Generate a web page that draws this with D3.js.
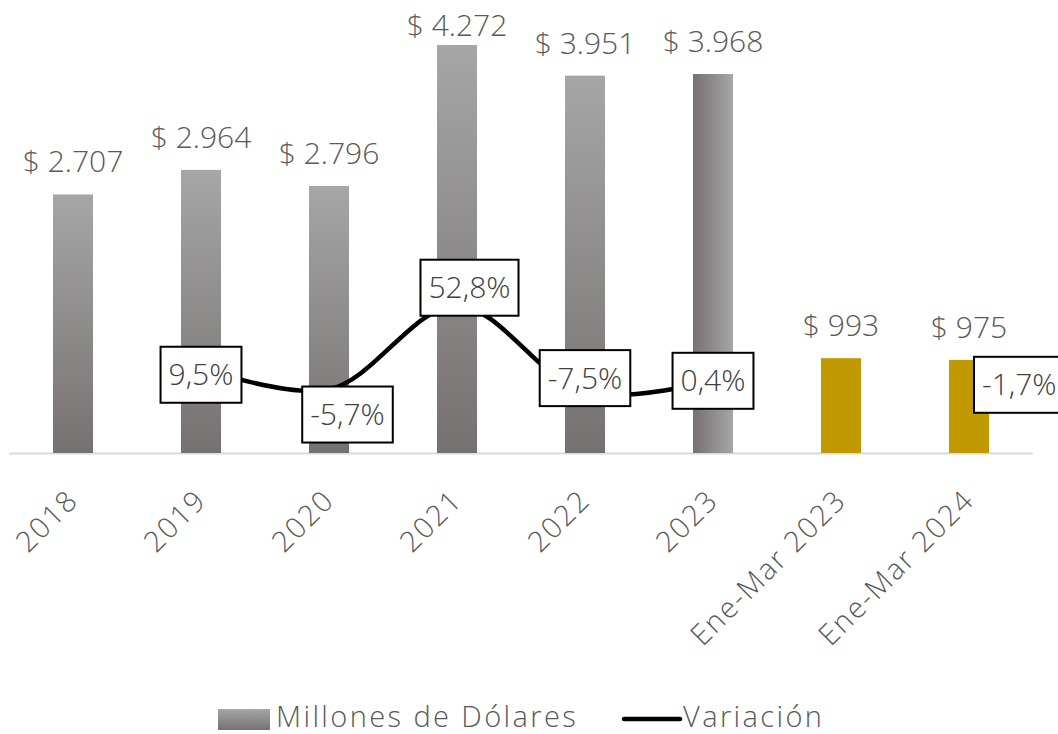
<!DOCTYPE html>
<html><head><meta charset="utf-8">
<script src="https://cdn.jsdelivr.net/npm/d3@7/dist/d3.min.js"></script>
<style>body{margin:0;background:#fff}svg{display:block}text{font-family:"Open Sans","Noto Sans",sans-serif;font-weight:300}</style>
</head><body><svg id="c" width="1058" height="734"></svg>
<script>
const categories = ["2018","2019","2020","2021","2022","2023","Ene-Mar 2023","Ene-Mar 2024"];
const values = [2707,2964,2796,4272,3951,3968,993,975];
const variation = [null,9.5,-5.7,52.8,-7.5,0.4,null,-1.7];
const barKinds = ["v","v","v","v","v","h","gold","gold"];
const yTicksPrimary = [0,4500];
const yTicksSecondary = [-50,250];
const legendLabels = ["Millones de Dólares","Variación"];
// label box offsets (layout)
const labelOffsets = [null,[0,7],[18.5,25],[12.5,-18],[0,-14],[0,0],null,["right",1]];

const svg = d3.select("#c");
const defs = svg.append("defs");
const gv = defs.append("linearGradient").attr("id","gv").attr("x1",0).attr("y1",0).attr("x2",0).attr("y2",1);
gv.append("stop").attr("offset","0").attr("stop-color","#a6a6a6");
gv.append("stop").attr("offset","1").attr("stop-color","#767171");
const gh = defs.append("linearGradient").attr("id","gh").attr("x1",0).attr("y1",0).attr("x2",1).attr("y2",0);
gh.append("stop").attr("offset","0").attr("stop-color","#767171");
gh.append("stop").attr("offset","1").attr("stop-color","#a6a6a6");

const x = d3.scaleBand().domain(categories).range([9,1033]).paddingInner(0.6875).paddingOuter(0.34375);
const y = d3.scaleLinear().domain(yTicksPrimary).range([453,23.2]);
const y2 = d3.scaleLinear().domain(yTicksSecondary).range([453,23.2]);
const fill = k => k==="v" ? "url(#gv)" : k==="h" ? "url(#gh)" : "#c09a00";

// axis line
svg.append("line").attr("x1",9).attr("x2",1033).attr("y1",453.5).attr("y2",453.5)
  .attr("stroke","#d9d9d9").attr("stroke-width",2);

// bars
svg.append("g").selectAll("rect").data(values).join("rect")
  .attr("x",(d,i)=>x(categories[i])).attr("width",x.bandwidth())
  .attr("y",d=>y(d)).attr("height",d=>y(0)-y(d))
  .attr("fill",(d,i)=>fill(barKinds[i]));

// bar labels
const fmtMoney = v => "$ " + d3.format(",")(v).replace(/,/g,".");
svg.append("g").selectAll("text").data(values).join("text")
  .attr("x",(d,i)=>x(categories[i])+x.bandwidth()/2)
  .attr("y",d=>Math.max(y(d)-22,36))
  .attr("text-anchor","middle").attr("font-size",30).attr("fill","#595959")
  .text(fmtMoney);

// x tick labels
const xAxis = svg.append("g").attr("transform","translate(0,453)")
  .call(d3.axisBottom(x).tickSize(0).tickPadding(0));
xAxis.select(".domain").remove();
xAxis.selectAll("text")
  .attr("font-size",29).attr("fill","#595959").attr("letter-spacing","1.8px")
  .style("font-family",'"Open Sans","Noto Sans",sans-serif').style("font-weight",300)
  .attr("text-anchor","end")
  .attr("transform","translate(7,49) rotate(-45)")
  .attr("dy","0").attr("y",0).attr("x",0);

// line
const cx = i => x(categories[i]) + x.bandwidth()/2;
const line = d3.line().defined(d=>d!=null).x((d,i)=>cx(i)).y(d=>y2(d)).curve(d3.curveCatmullRom.alpha(0.5));
svg.append("path").datum(variation).attr("d",line).attr("fill","none")
  .attr("stroke","#000").attr("stroke-width",4.5).attr("stroke-linejoin","round");

// variation labels
const fmtPct = v => d3.format(".1f")(v).replace(".",",").replace("−","-") + "%";
const lg = svg.append("g");
variation.forEach((v,i)=>{
  if(v==null) return;
  const off = labelOffsets[i];
  const g = lg.append("g");
  const t = g.append("text").attr("font-size",30).attr("fill","#404040").attr("text-anchor","middle").attr("dy","0.35em").text(fmtPct(v));
  const bb = t.node().getBBox();
  const w = bb.width + 16, h = 56;
  let ccx, ccy;
  if(off[0]==="right"){ ccx = cx(i) + 5 + w/2; ccy = y2(v) + off[1]; }
  else { ccx = cx(i) + off[0]; ccy = y2(v) + off[1]; }
  g.insert("rect","text").attr("x",-w/2).attr("y",-h/2).attr("width",w).attr("height",h)
    .attr("fill","#fff").attr("stroke","#000").attr("stroke-width",2);
  g.attr("transform",`translate(${ccx},${ccy})`);
});

// legend
const leg = svg.append("g");
leg.append("rect").attr("x",218).attr("y",709).attr("width",52).attr("height",21).attr("fill","url(#gv)");
leg.append("text").attr("x",276).attr("y",727).attr("font-size",29).attr("letter-spacing","2.4px").attr("fill","#595959").text(legendLabels[0]);
leg.append("line").attr("x1",624).attr("x2",680).attr("y1",719).attr("y2",719).attr("stroke","#000").attr("stroke-width",4.5).attr("stroke-linecap","round");
leg.append("text").attr("x",683).attr("y",727).attr("font-size",29).attr("letter-spacing","2.4px").attr("fill","#595959").text(legendLabels[1]);
</script></body></html>
